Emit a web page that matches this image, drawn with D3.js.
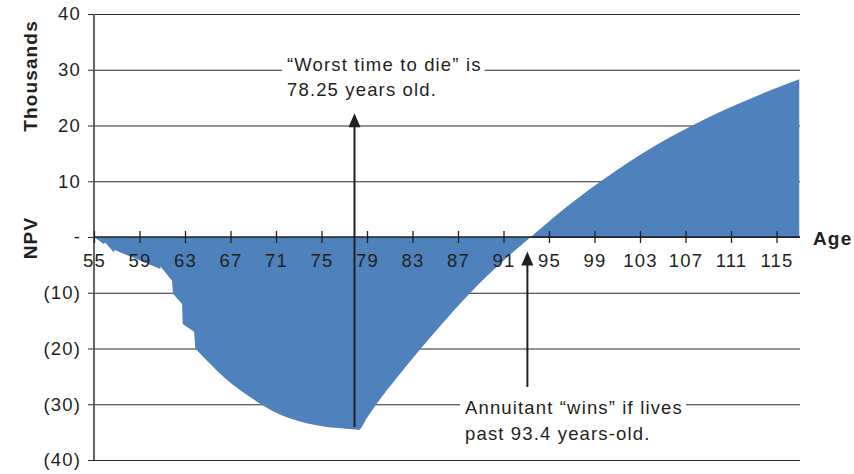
<!DOCTYPE html>
<html>
<head>
<meta charset="utf-8">
<script src="https://cdn.jsdelivr.net/npm/d3@7"></script>
<style>
  body { margin: 0; background: #fff; }
  text { font-family: "Liberation Sans", Arial, Helvetica, sans-serif; fill: #231f20; letter-spacing: 1.15px; }
</style>
</head>
<body>
<svg id="chart" width="854" height="474"></svg>
<script>
// age (years) and NPV (thousands)
var ages = [55, 55.85, 55.99, 56.73, 56.82, 60.83, 60.85, 61.86, 61.95,
  62.74, 62.8, 63.8, 63.92, 65.1, 66.4, 67.8, 69.3, 70.7, 72.2, 73.7, 75.2, 77.8, 78.25,
  79, 79.85, 81.8, 83.66, 85.8, 87.9, 89.3, 90.7, 92, 93.4, 95.4, 97.5, 99.77, 102,
  104.17, 106, 107.69, 109.6, 111.5, 114.2, 117];
var npv = [0, -1.26, -1.0, -2.74, -2.33, -5.74, -5.3, -7.84, -10.2,
  -12.0, -15.6, -17.0, -20.0, -22.5, -25.1, -27.4, -29.5, -31.2, -32.5, -33.4, -34.0, -34.5, -34.6,
  -32.4, -29.9, -24.8, -20.2, -15.1, -10.4, -7.5, -4.8, -2.4, 0, 3.5, 6.9, 10.3, 13.4,
  16.2, 18.3, 20.1, 22.0, 23.75, 26.1, 28.3];
// the stepped early years end here; after it the curve is smooth
var stepEndAge = 63.92;

var xTicks = d3.range(55, 116, 4);
var yTicks = [40, 30, 20, 10, 0, -10, -20, -30, -40];

var annotations = [
  { age: 77.9, top: 22.2, bottom: -34.1, lines: ['\u201cWorst time to die\u201d is', '78.25 years old.'] },
  { age: 93.1, top: -2.6, bottom: -26.9, lines: ['Annuitant \u201cwins\u201d if lives', 'past 93.4 years-old.'] }
];

var data = ages.map(function(a, i) { return { age: a, value: npv[i] }; });
var splitIndex = ages.indexOf(stepEndAge);
// stepped piece runs one point past the split so the two pieces overlap (no seam)
var stepped = data.slice(0, splitIndex + 2);
var smooth = data.slice(splitIndex);

var svg = d3.select('#chart');
var margin = { top: 14, left: 94 };
var plotRight = 799.25;
var plotBottom = 460;

var xScale = d3.scaleLinear().domain([55, 117]).range([margin.left, plotRight]);
var yScale = d3.scaleLinear().domain([-40, 40]).range([plotBottom, margin.top]);

function yLabel(v) {
  if (v == 0) return '-';
  if (v < 0) return '(' + (-v) + ')';
  return '' + v;
}

// grid lines (also act as left tick stubs)
var yAxis = d3.axisLeft(yScale)
  .tickValues(yTicks)
  .tickSize(-(800 - margin.left))
  .tickPadding(13)
  .tickFormat(yLabel);
var yAxisGroup = svg.append('g')
  .attr('class', 'axis axis--y')
  .attr('transform', 'translate(' + margin.left + ',0)')
  .call(yAxis);
yAxisGroup.select('.domain').remove();
yAxisGroup.selectAll('.tick line')
  .attr('x1', -6)
  .attr('stroke', '#2a2a2a')
  .attr('stroke-width', 1.2);
yAxisGroup.selectAll('.tick text')
  .attr('font-size', 18.5)
  .attr('fill', '#231f20');

// area, in two pieces so the steps stay sharp
var area = d3.area()
  .x(function(d) { return xScale(d.age); })
  .y0(yScale(0))
  .y1(function(d) { return yScale(d.value); });

svg.append('path')
  .datum(stepped)
  .attr('fill', '#4f81bd')
  .attr('d', area.curve(d3.curveLinear));
svg.append('path')
  .datum(smooth)
  .attr('fill', '#4f81bd')
  .attr('d', area.curve(d3.curveMonotoneX));

// y axis line
svg.append('line')
  .attr('x1', margin.left).attr('x2', margin.left)
  .attr('y1', margin.top).attr('y2', plotBottom)
  .attr('stroke', '#555')
  .attr('stroke-width', 1.8);

// x axis at zero
var xAxis = d3.axisBottom(xScale)
  .tickValues(xTicks)
  .tickSize(6)
  .tickSizeOuter(0)
  .tickPadding(11)
  .tickFormat(d3.format('d'));
var xAxisGroup = svg.append('g')
  .attr('class', 'axis axis--x')
  .attr('transform', 'translate(0,' + yScale(0) + ')')
  .call(xAxis);
xAxisGroup.select('.domain')
  .attr('d', 'M' + margin.left + ',0H800')
  .attr('stroke', '#231f20')
  .attr('stroke-width', 1.5);
xAxisGroup.selectAll('.tick line')
  .attr('y1', -6)
  .attr('stroke', '#231f20')
  .attr('stroke-width', 1.3);
xAxisGroup.selectAll('.tick text')
  .attr('font-size', 18.5)
  .attr('fill', '#231f20');

// axis titles
svg.append('text')
  .attr('transform', 'translate(36.5,76) rotate(-90)')
  .attr('text-anchor', 'middle')
  .attr('font-size', 19)
  .attr('font-weight', 'bold')
  .text('Thousands');
svg.append('text')
  .attr('transform', 'translate(36.5,238) rotate(-90)')
  .attr('text-anchor', 'middle')
  .attr('font-size', 19)
  .attr('font-weight', 'bold')
  .text('NPV');
svg.append('text')
  .attr('x', 813)
  .attr('y', 245)
  .attr('font-size', 19)
  .attr('font-weight', 'bold')
  .text('Age');

// arrows with knocked-out labels
var labelPos = [
  { x: 287, y: 71 },
  { x: 465, y: 414.3 }
];

annotations.forEach(function(a, i) {
  svg.append('line')
    .attr('x1', xScale(a.age)).attr('x2', xScale(a.age))
    .attr('y1', yScale(a.bottom)).attr('y2', yScale(a.top) + 4)
    .attr('stroke', '#231f20')
    .attr('stroke-width', 2);
  svg.append('path')
    .attr('d', 'M' + xScale(a.age) + ',' + yScale(a.top) + 'l6,14h-12z')
    .attr('fill', '#231f20');

  var g = svg.append('g');
  a.lines.forEach(function(line, j) {
    var bg = g.append('rect').attr('fill', '#fff');
    var t = g.append('text')
      .attr('x', labelPos[i].x)
      .attr('y', labelPos[i].y + j * 25.3)
      .attr('font-size', 18.5)
      .text(line);
    var bb = t.node().getBBox();
    bg.attr('x', bb.x - 5).attr('y', bb.y + 2)
      .attr('width', bb.width + 8).attr('height', bb.height - 4);
  });
});
</script>
</body>
</html>
